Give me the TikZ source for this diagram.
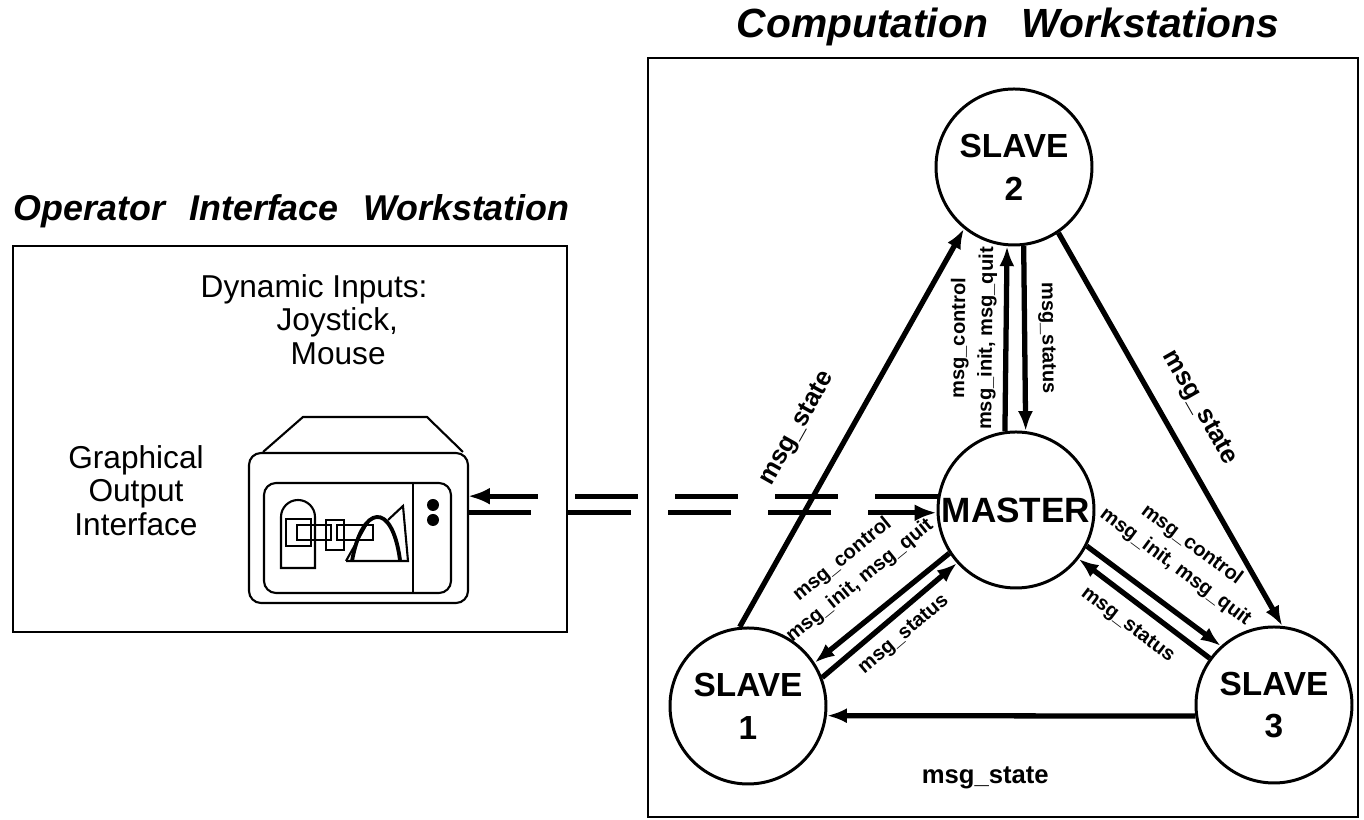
\documentclass[tikz,border=0pt]{standalone}
\usepackage{fontspec}
\setmainfont{Liberation Sans}
\usetikzlibrary{arrows.meta}

\begin{document}
\begin{tikzpicture}[
        >={Latex[length=0.2cm,width=0.15cm]},
        station/.style={circle,draw,line width=0.85pt,minimum size=1.56cm,inner sep=0pt,align=center,font=\fontsize{9.5}{12.2}\selectfont\bfseries},
        msg/.style={line width=1.5pt},
        small/.style={inner sep=0pt,align=center,font=\fontsize{5.7}{7.8}\selectfont\bfseries},
        statelbl/.style={inner sep=0pt,font=\fontsize{7.3}{9}\selectfont\bfseries},
        wire/.style={line width=1.5pt,dash pattern=on 0.63cm off 0.37cm,>={Latex[length=0.22cm,width=0.17cm]}},
        title/.style={inner sep=0pt,font=\bfseries\itshape},
        plain/.style={inner sep=0pt,font=\fontsize{9}{9.5}\selectfont},
        box/.style={draw,line width=0.6pt}
    ]
        \useasboundingbox (0,0) rectangle (13.64,8.20);

        % the two workstations
        \draw[box] (0.13,1.88) rectangle (5.67,5.74);
        \draw[box] (6.48,0.03) rectangle (13.58,7.62);
        \node[title,anchor=base west,font=\fontsize{10.2}{12}\selectfont\bfseries\itshape] (optitle) at (0.13,5.99) {Operator\hspace{0.4em} Interface\hspace{0.4em} Workstation};
        \node[title,anchor=base west,font=\fontsize{11.6}{13}\selectfont\bfseries\itshape] (comptitle) at (7.36,7.82) {Computation\hspace{0.55em} Workstations};

        \node[plain,align=left,anchor=north west] (dyn) at (2.00,5.46) {Dynamic Inputs:\\\hspace*{21.6pt}Joystick,\\\hspace*{25.6pt}Mouse};
        \node[plain,align=center,anchor=north] (gfx) at (1.36,3.75) {Graphical\\Output\\Interface};

        % the terminal
        \begin{scope}[line width=0.6pt]
            \draw (2.63,3.68) -- (3.03,4.03) -- (4.27,4.03) -- (4.63,3.68);
            \draw[rounded corners=0.12cm] (2.49,2.17) rectangle (4.68,3.67);
            \draw[rounded corners=0.12cm] (2.64,2.27) rectangle (4.51,3.37);
            \draw (4.13,3.37) -- (4.13,2.27);
            \fill (4.33,3.15) circle (0.06);
            \fill (4.33,3.00) circle (0.06);
            \draw (2.81,2.52) -- (2.81,3.03) arc (180:0:0.17) -- (3.15,2.52) -- cycle;
            \draw (2.86,2.74) rectangle (3.11,3.01);
            \draw (2.97,2.80) rectangle (3.31,2.95);
            \draw (3.26,2.70) rectangle (3.44,3.00);
            \draw (3.37,2.80) rectangle (3.73,2.95);
            \draw (3.46,2.59) -- (4.08,2.59) -- (4.03,3.14) -- (3.88,3.00);
            \draw[line width=1.1pt] (3.52,2.59) .. controls (3.62,3.15) and (3.92,3.20) .. (4.00,2.60);
            \draw (3.46,2.59) -- (3.68,2.98);
        \end{scope}
        \coordinate (pc) at (4.68,3.00);

        % master and slaves
        \node[station,font=\fontsize{10}{12}\selectfont\bfseries] (master) at (10.16,3.10) {MASTER};
        \node[station] (sl1) at (7.48,1.14) {SLAVE\\1};
        \node[station] (sl2) at (10.14,6.53) {SLAVE\\2};
        \node[station] (sl3) at (12.74,1.15) {SLAVE\\3};

        \draw[wire,->] (master.170) -- (master.170 -| pc);
        \draw[wire,->] (master.182 -| pc) -- (master.182);

        \draw[msg,->] (sl1.96) -- (sl2.231) node[statelbl,pos=0.44,sloped,above=0.33cm] {msg\_state};
        \draw[msg,->] (sl2.-56) -- (sl3.84) node[statelbl,pos=0.49,sloped,above=0.22cm] {msg\_state};
        \draw[msg,->] (sl3.188) -- (sl1.-7) node[statelbl,pos=0.57,below=0.48cm] {msg\_state};

        \draw[msg,->] (master.98) -- (sl2.265) node[small,midway,sloped,above=0.07cm] {msg\_control\\msg\_init, msg\_quit};
        \draw[msg,->] (sl2.277) -- (master.83) node[small,midway,sloped,above=0.11cm] {msg\_status};

        \draw[msg,<-] (sl1.33) -- (master.213) node[small,midway,sloped,above=0.23cm] {msg\_control\\msg\_init, msg\_quit};
        \draw[msg,->] (sl1.21) -- (master.222) node[small,pos=0.51,sloped,below=0.09cm] {msg\_status};

        \draw[msg,->] (master.-27) -- (sl3.132) node[small,midway,sloped,above=0.24cm] {msg\_control\\msg\_init, msg\_quit};
        \draw[msg,<-] (master.-38) -- (sl3.144) node[small,pos=0.48,sloped,below=0.12cm] {msg\_status};
    \end{tikzpicture}
\end{document}
